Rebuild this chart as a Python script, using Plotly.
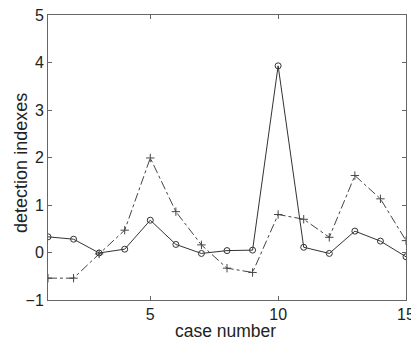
import plotly.graph_objects as go

case_number = list(range(1, 16))
solid_values = [0.33, 0.28, -0.01, 0.07, 0.68, 0.17, -0.02, 0.04, 0.05, 3.93, 0.11, -0.02, 0.45, 0.24, -0.09]
dashed_values = [-0.54, -0.54, -0.03, 0.47, 1.99, 0.86, 0.16, -0.33, -0.42, 0.80, 0.70, 0.32, 1.62, 1.13, 0.25]
y_ticks = [-1, 0, 1, 2, 3, 4, 5]
x_ticks = [5, 10, 15]
x_title = "case number"
y_title = "detection indexes"

FONT = "Liberation Sans, Arial, sans-serif"

fig = go.Figure()
fig.add_trace(go.Scatter(
    x=case_number, y=dashed_values, mode="lines+markers",
    line=dict(color="#444444", width=1, dash="dashdot"),
    marker=dict(symbol="cross-thin-open", size=6, line=dict(color="#333333", width=1)),
    showlegend=False))
fig.add_trace(go.Scatter(
    x=case_number, y=solid_values, mode="lines+markers",
    line=dict(color="#333333", width=1),
    marker=dict(symbol="circle-open", size=6, line=dict(color="#222222", width=1)),
    showlegend=False))

axis_common = dict(showgrid=False, zeroline=False, showline=True, linecolor="#666666",
                   linewidth=1, mirror="ticks", ticks="inside", ticklen=4, tickcolor="#666666",
                   automargin=False, ticklabeloverflow="allow",
                   tickfont=dict(family=FONT, size=16, color="#222222"))
fig.update_xaxes(range=[1, 15], tickvals=x_ticks, **axis_common)
fig.update_yaxes(range=[-1, 5], tickvals=y_ticks, **axis_common)

fig.add_annotation(text=x_title, xref="paper", yref="paper", x=0.497, y=-0.109,
                   xanchor="center", yanchor="middle", showarrow=False,
                   font=dict(family=FONT, size=17.5, color="#222222"))
fig.add_annotation(text=y_title, xref="paper", yref="paper", x=-0.0754, y=0.481,
                   xanchor="center", yanchor="middle", showarrow=False, textangle=-90,
                   font=dict(family=FONT, size=18, color="#222222"))

fig.update_layout(width=411, height=335, margin=dict(l=40, r=13, t=7, b=43),
                  plot_bgcolor="white", paper_bgcolor="white")
fig.write_html("out.html")
